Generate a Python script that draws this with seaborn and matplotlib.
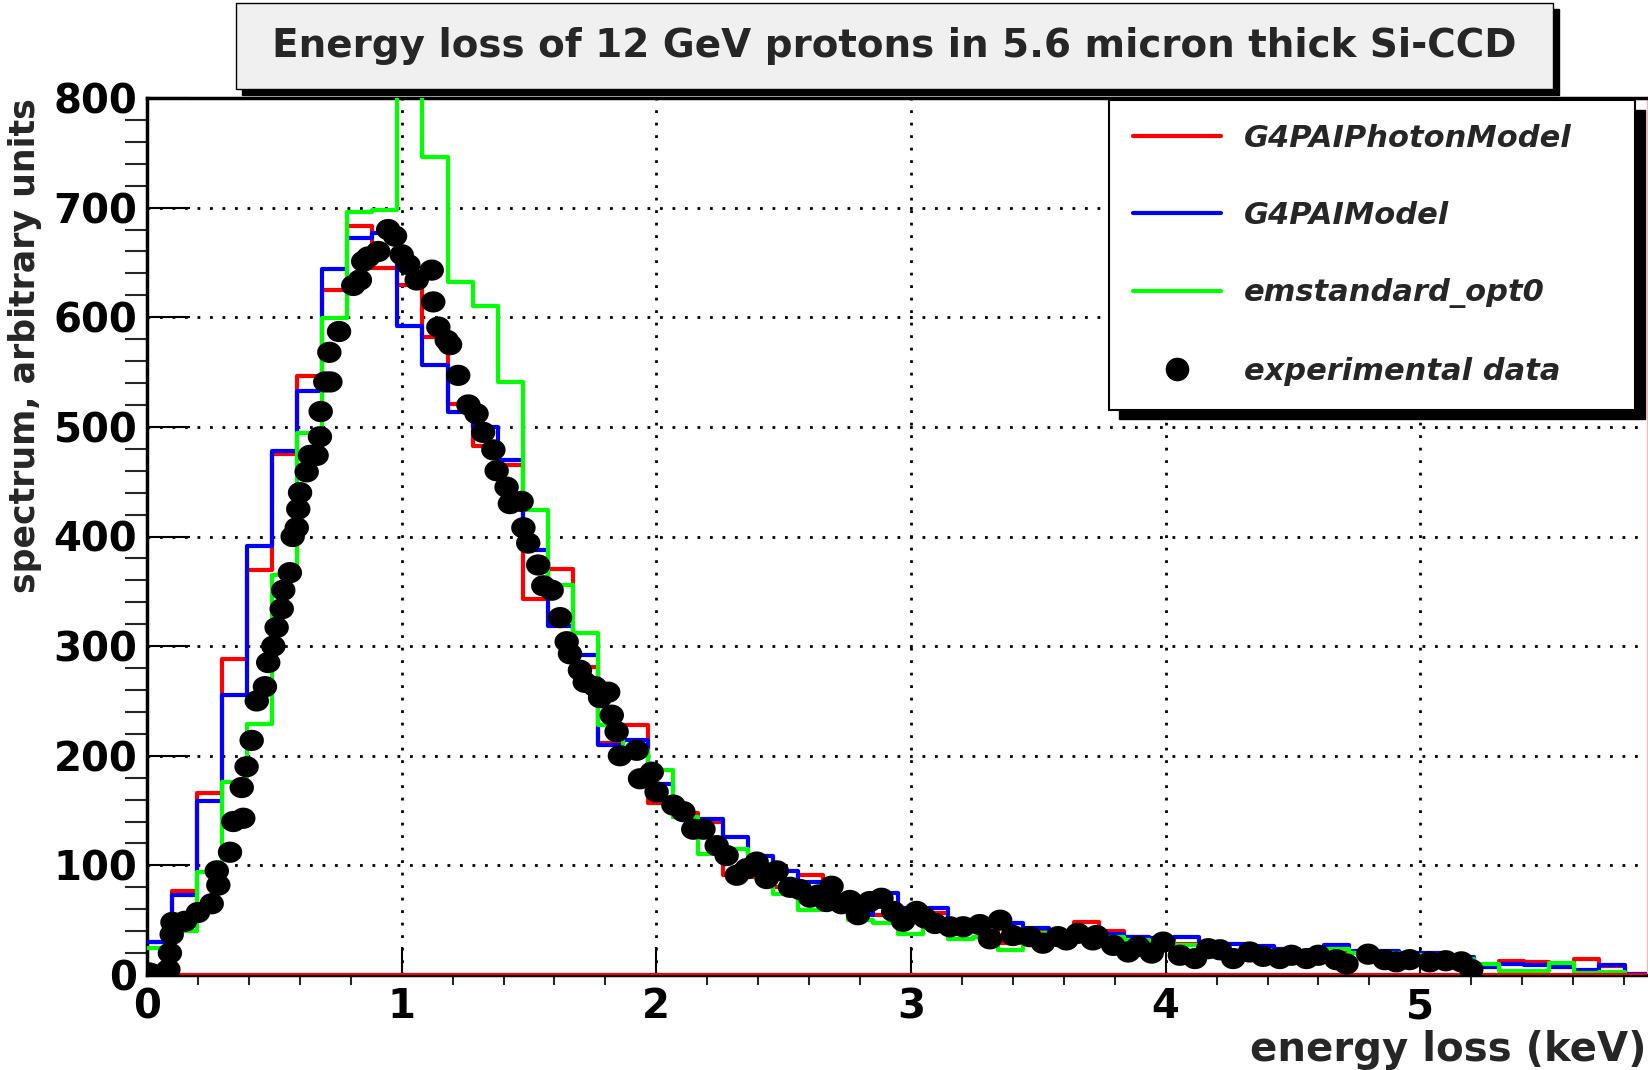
import numpy as np
import pandas as pd
import matplotlib
matplotlib.use('Agg')
import matplotlib.pyplot as plt
from matplotlib.lines import Line2D
from matplotlib.patches import Rectangle
from matplotlib.ticker import MultipleLocator
import seaborn as sns

# ---- data ----
# 60 bins of simulated energy loss between 0 and 5.9 keV
n_bins = 60
x_max = 5.9

pai_photon = [30, 77, 166, 288, 369, 475, 546, 625, 683, 645,
              629, 582, 521, 483, 465, 343, 370, 281, 212, 228,
              157, 148, 140, 91, 89, 80, 91, 70, 58, 55,
              50, 57, 42, 40, 29, 42, 40, 48, 40, 35,
              33, 28, 25, 22, 22, 20, 18, 22, 20, 20,
              18, 17, 15, 8, 13, 11.6, 9, 15, 8, 1]

pai_model = [30, 73, 159, 255, 391, 478, 533, 644, 672, 677,
             592, 556, 514, 500, 470, 388, 318, 292, 210, 214,
             174, 144, 142, 126, 109, 95, 85, 70, 55, 75,
             61, 61, 50, 45, 47, 43, 40, 38, 37, 35,
             34, 35, 30, 28, 26, 24, 22, 27, 22, 22,
             20, 20, 16, 7, 10, 9, 7, 5, 9, 0.5]

emstandard = [25, 40, 94, 176, 229, 365, 494, 599, 696, 698,
              870, 746, 632, 610, 541, 424, 356, 312, 228, 205,
              187, 144, 110, 115, 90, 74, 59, 65, 50, 47,
              37, 45, 33, 35, 23, 38, 35, 40, 35, 32,
              30, 27, 25, 22, 20, 18, 17, 24, 20, 20,
              18, 16, 15, 10, 4, 3.6, 10.6, 1.6, 2.6, 0]

# experimental points
exp_x = [0.005, 0.02, 0.084, 0.09, 0.097, 0.10, 0.149, 0.20, 0.254, 0.274,
         0.28, 0.326, 0.339, 0.372, 0.378, 0.391, 0.411, 0.431, 0.463, 0.476,
         0.496, 0.509, 0.529, 0.535, 0.561, 0.572, 0.588, 0.594, 0.601, 0.627,
         0.64, 0.666, 0.679, 0.682, 0.70, 0.716, 0.72, 0.754, 0.81, 0.836,
         0.849, 0.869, 0.908, 0.947, 0.974, 1.0, 1.026, 1.059, 1.118, 1.124,
         1.144, 1.177, 1.19, 1.222, 1.262, 1.294, 1.32, 1.36, 1.373, 1.412,
         1.425, 1.471, 1.478, 1.497, 1.536, 1.556, 1.589, 1.622, 1.648, 1.661,
         1.70, 1.719, 1.759, 1.779, 1.811, 1.825, 1.844, 1.857, 1.923, 1.936,
         1.982, 2.001, 2.067, 2.106, 2.145, 2.185, 2.237, 2.276, 2.316, 2.355,
         2.394, 2.433, 2.473, 2.525, 2.564, 2.603, 2.636, 2.668, 2.688, 2.727,
         2.76, 2.792, 2.838, 2.884, 2.93, 2.969, 3.022, 3.055, 3.094, 3.153,
         3.205, 3.27, 3.31, 3.35, 3.40, 3.466, 3.518, 3.577, 3.61, 3.655,
         3.714, 3.728, 3.794, 3.853, 3.892, 3.945, 3.99, 4.056, 4.115, 4.167,
         4.213, 4.265, 4.33, 4.383, 4.448, 4.494, 4.553, 4.599, 4.67, 4.71,
         4.795, 4.86, 4.906, 4.958, 5.037, 5.10, 5.161, 5.2]
exp_y = [2, 1, 5, 20, 37, 48, 49, 57, 65, 95,
         82, 112, 140, 171, 143, 190, 214, 250, 263, 285,
         300, 317, 334, 351, 367, 400, 408, 425, 440, 459,
         474, 474, 491, 514, 541, 568, 541, 587, 629, 634,
         651, 655, 660, 680, 674, 657, 648, 634, 643, 614,
         591, 579, 575, 547, 520, 512, 495, 479, 460, 445,
         430, 432, 408, 394, 374, 355, 351, 326, 304, 293,
         278, 267, 263, 253, 258, 237, 222, 200, 205, 179,
         185, 167, 155, 149, 133, 133, 118, 109, 91, 97,
         103, 88, 95, 80, 78, 71, 73, 67, 81, 65,
         68, 55, 67, 70, 58, 49, 58, 52, 47, 44,
         44, 46, 33, 50, 36, 35, 29, 35, 32, 38,
         32, 36, 27, 21, 26, 20, 30, 18, 15, 24,
         23, 15, 21, 17, 15, 18, 15, 18, 14, 10,
         19, 14, 12, 14, 12, 13, 12, 5]

labels = ['G4PAIPhotonModel', 'G4PAIModel', 'emstandard_opt0', 'experimental data']
title = 'Energy loss of 12 GeV protons in 5.6 micron thick Si-CCD'

edges = np.linspace(0, x_max, n_bins + 1)
centers = 0.5 * (edges[:-1] + edges[1:])

# ---- style ----
sns.set_theme(style='white')
plt.rcParams['font.family'] = ['DejaVu Sans']
plt.rcParams['font.weight'] = 'bold'

W, H = 1648, 1070
fig = plt.figure(figsize=(W / 100, H / 100), dpi=100)
fig.patch.set_facecolor('white')
ax = fig.add_axes([147 / W, 1 - 975 / H, 1500 / W, 877 / H])
ax.set_facecolor('white')

# ---- histograms ----
for vals, col in [(pai_photon, '#ff0000'), (pai_model, '#0000ff'), (emstandard, '#00ff00')]:
    hist_df = pd.DataFrame({'energy': centers, 'count': vals})
    sns.histplot(data=hist_df, x='energy', weights='count', bins=n_bins,
                 binrange=(0, x_max), element='step', fill=False,
                 color=col, linewidth=3, ax=ax, zorder=3)
ax.axhline(0, color='#ff0000', linewidth=3, zorder=3)

# ---- experimental points (slightly wide dots like ROOT) ----
t = np.linspace(0, 2 * np.pi, 40)
ellipse = np.column_stack([1.15 * np.cos(t), np.sin(t)])
sns.scatterplot(x=exp_x, y=exp_y, color='black', marker=ellipse, s=310,
                edgecolor='none', linewidth=0, ax=ax, zorder=4)

# ---- axes ----
ax.set_xlim(0, 5.89)
ax.set_ylim(0, 800)
ax.xaxis.set_major_locator(MultipleLocator(1))
ax.xaxis.set_minor_locator(MultipleLocator(0.2))
ax.yaxis.set_major_locator(MultipleLocator(100))
ax.yaxis.set_minor_locator(MultipleLocator(20))
ax.tick_params(axis='both', direction='in', labelsize=29, width=1.5, colors='black')
ax.tick_params(axis='y', which='major', length=31, pad=7, left=True, right=False)
ax.tick_params(axis='y', which='minor', length=16, width=1.5, left=True, right=False)
ax.tick_params(axis='x', which='major', length=20, pad=9, bottom=True, top=False)
ax.tick_params(axis='x', which='minor', length=7.5, width=1.5, bottom=True, top=False)
for lab in ax.get_xticklabels() + ax.get_yticklabels():
    lab.set_fontweight('bold')

ax.grid(True, which='major', color='black', linestyle=(0, (1, 3.5)), linewidth=2)
ax.set_axisbelow(True)

for side in ['left', 'bottom', 'top']:
    ax.spines[side].set_color('black')
    ax.spines[side].set_linewidth(2.5)
ax.spines['right'].set_color('#f2b8b8')
ax.spines['right'].set_linewidth(1)

ax.set_ylabel('spectrum, arbitrary units', fontsize=25, fontweight='bold', loc='top', labelpad=8)
ax.set_xlabel('energy loss (keV)', fontsize=29, fontweight='bold', loc='right', labelpad=2)

# ---- legend ----
handles = [Line2D([], [], color='#ff0000', lw=3),
           Line2D([], [], color='#0000ff', lw=3),
           Line2D([], [], color='#00ff00', lw=3),
           Line2D([], [], color='black', marker='o', ls='none', markersize=16)]
leg = ax.legend(handles, labels, loc='upper left', mode='expand',
                bbox_to_anchor=(1109 / W, 1 - 410 / H, 526 / W, 310 / H),
                bbox_transform=fig.transFigure, borderaxespad=0,
                prop={'size': 22, 'weight': 'bold', 'style': 'italic'},
                frameon=True, fancybox=False, edgecolor='black', framealpha=1,
                handlelength=2.9, handletextpad=0.75, labelspacing=1.58, borderpad=0.78)
leg.get_frame().set_linewidth(1.5)
leg.set_zorder(6)

# ---- title box ----
fig.patches.append(Rectangle((242 / W, 1 - 95 / H), 1317 / W, 86 / H,
                             transform=fig.transFigure, color='black', zorder=1))
fig.patches.append(Rectangle((236 / W, 1 - 89 / H), 1317 / W, 86 / H,
                             transform=fig.transFigure, facecolor='#f0f0f0',
                             edgecolor='black', linewidth=1, zorder=2))
fig.text(894.5 / W, 1 - 46 / H, title, ha='center', va='center',
         fontsize=28, fontweight='bold', zorder=3)

# legend shadow, placed once the legend size is known
fig.canvas.draw()
bb = leg.get_window_extent().transformed(ax.transAxes.inverted())
ax.add_patch(Rectangle((bb.x0 + 10 / 1500, bb.y0 - 10 / 877), bb.width, bb.height,
                       transform=ax.transAxes, color='black', zorder=5.5, clip_on=False))

plt.savefig('out.png', dpi=100)
